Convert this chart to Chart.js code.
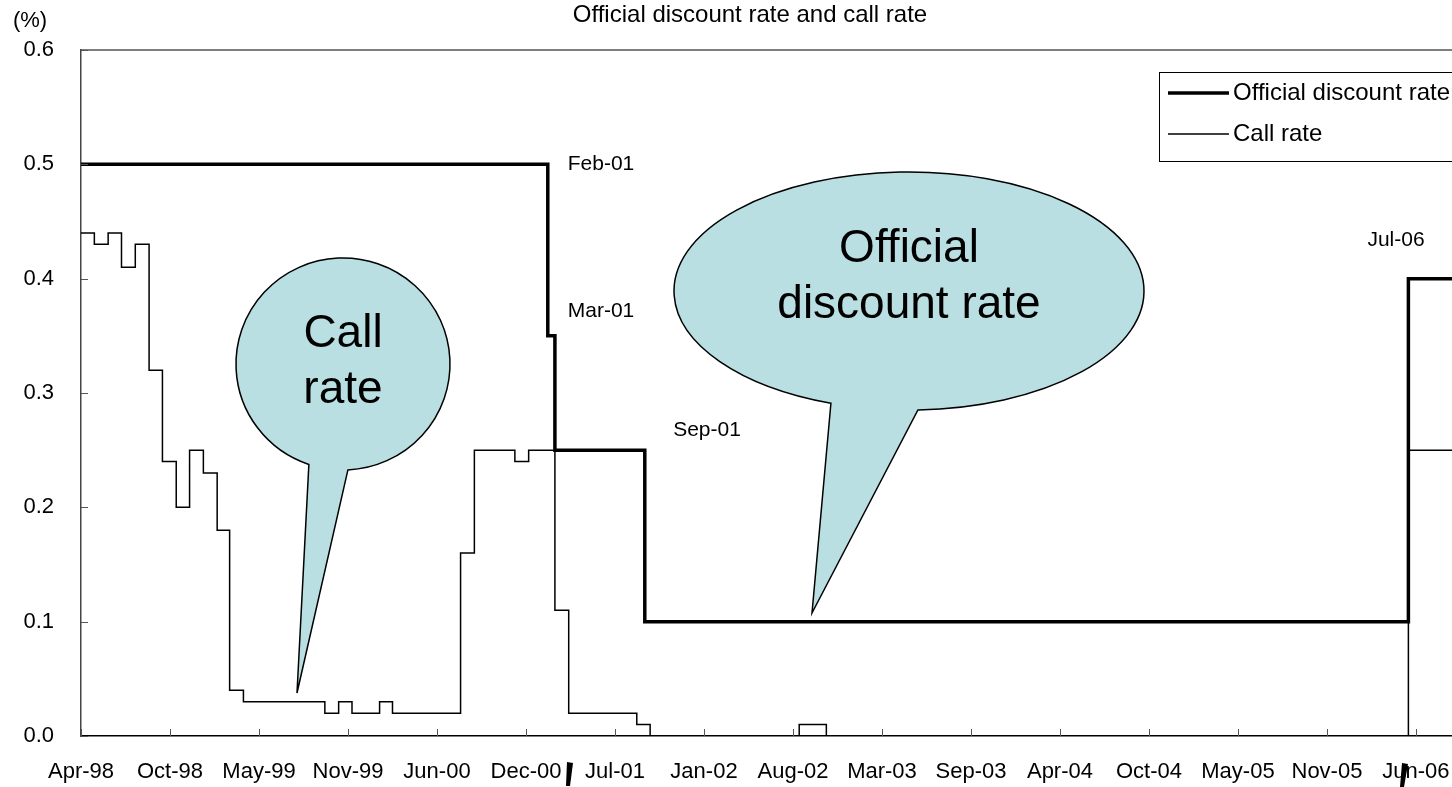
<!DOCTYPE html>
<html>
<head>
<meta charset="utf-8">
<title>Official discount rate and call rate</title>
<script src="https://cdn.jsdelivr.net/npm/chart.js@4.4.1/dist/chart.umd.min.js"></script>
<style>
  html, body { margin: 0; padding: 0; background: #fff; overflow: hidden; }
  canvas { display: block; }
</style>
</head>
<body>
<canvas id="rateChart" width="1452" height="787"></canvas>
<script>
// x axis is counted in days from 1 Apr 1998, ticks every 200 days
var startDate = Date.UTC(1998, 3, 1);
var tickDays = [0, 200, 400, 600, 800, 1000, 1200, 1400, 1600, 1800, 2000, 2200, 2400, 2600, 2800, 3000];
var tickLabels = ["Apr-98", "Oct-98", "May-99", "Nov-99", "Jun-00", "Dec-00", "Jul-01", "Jan-02",
                  "Aug-02", "Mar-03", "Sep-03", "Apr-04", "Oct-04", "May-05", "Nov-05", "Jun-06"];

// official discount rate: date it took effect, and the rate (%)
var discountDates = ["1998-04-01", "2001-02-13", "2001-03-01", "2001-09-19", "2006-06-01", "2006-10-01"];
var discountRate = [0.5, 0.35, 0.25, 0.1, 0.4, 0.4];

// call rate, monthly from Apr-98 (%)
var callMonths0 = [1998, 3]; // first month: year, month index
var callRate = [
  0.44, 0.43, 0.44, 0.41, 0.43, 0.32, 0.24, 0.20, 0.25,                       // 1998 Apr-Dec
  0.23, 0.18, 0.04, 0.03, 0.03, 0.03, 0.03, 0.03, 0.03, 0.02, 0.03, 0.02,     // 1999
  0.02, 0.03, 0.02, 0.02, 0.02, 0.02, 0.02, 0.16, 0.25, 0.25, 0.25, 0.24,     // 2000
  0.25, 0.25, 0.11, 0.02, 0.02, 0.02, 0.02, 0.02, 0.01, 0, 0, 0,              // 2001
  0, 0, 0, 0, 0, 0, 0, 0, 0.01, 0.01, 0, 0,                                   // 2002
  0, 0, 0, 0, 0, 0, 0, 0, 0, 0, 0, 0,                                         // 2003
  0, 0, 0, 0, 0, 0, 0, 0, 0, 0, 0, 0,                                         // 2004
  0, 0, 0, 0, 0, 0, 0, 0, 0, 0, 0, 0,                                         // 2005
  0, 0, 0, 0, 0, 0.25, 0.25, 0.25, 0.25, 0.25                                 // 2006 Jan-Oct
];

var dayMs = 86400000;
var fontName = "'Liberation Sans', Arial, sans-serif";

function dayOf(str) {
  var p = str.split("-");
  return Math.round((Date.UTC(+p[0], +p[1] - 1, +p[2]) - startDate) / dayMs);
}

var discountPoints = discountDates.map(function (d, i) {
  return { x: dayOf(d), y: discountRate[i] };
});

var callPoints = callRate.map(function (v, i) {
  var d = Date.UTC(callMonths0[0], callMonths0[1] + i, 1);
  return { x: Math.round((d - startDate) / dayMs), y: v };
});

// callouts and small labels drawn on top of the plot
function drawCallout(ctx, c) {
  var a1 = Math.atan2((c.base1[1] - c.cy) / c.ry, (c.base1[0] - c.cx) / c.rx);
  var a2 = Math.atan2((c.base2[1] - c.cy) / c.ry, (c.base2[0] - c.cx) / c.rx);
  ctx.beginPath();
  ctx.moveTo(c.tip[0], c.tip[1]);
  ctx.lineTo(c.cx + c.rx * Math.cos(a2), c.cy + c.ry * Math.sin(a2));
  ctx.ellipse(c.cx, c.cy, c.rx, c.ry, 0, a2, a1, true);
  ctx.closePath();
  ctx.fillStyle = "#b9dfe3";
  ctx.fill();
  ctx.lineWidth = 1.5;
  ctx.strokeStyle = "#000";
  ctx.stroke();
  ctx.fillStyle = "#000";
  ctx.font = "46px " + fontName;
  ctx.textAlign = "center";
  ctx.textBaseline = "middle";
  c.lines.forEach(function (t, i) {
    ctx.fillText(t, c.cx, c.textY + i * 56);
  });
}

var decorations = {
  id: "decorations",
  afterDatasetsDraw: function (chart) {
    var ctx = chart.ctx;
    var a = chart.chartArea;
    var xs = chart.scales.x, ys = chart.scales.y;
    ctx.save();

    // frame: top edge
    ctx.strokeStyle = "#555";
    ctx.lineWidth = 1.5;
    ctx.beginPath();
    ctx.moveTo(a.left, a.top);
    ctx.lineTo(a.right, a.top);
    ctx.stroke();

    // inward tick marks
    ctx.strokeStyle = "#555";
    ctx.lineWidth = 1;
    ys.ticks.forEach(function (t) {
      var py = Math.round(ys.getPixelForValue(t.value)) + 0.5;
      ctx.beginPath();
      ctx.moveTo(a.left, py);
      ctx.lineTo(a.left + 7, py);
      ctx.stroke();
    });
    xs.ticks.forEach(function (t) {
      var px = Math.round(xs.getPixelForValue(t.value)) + 0.5;
      ctx.beginPath();
      ctx.moveTo(px, a.bottom);
      ctx.lineTo(px, a.bottom - 7);
      ctx.stroke();
    });

    drawCallout(ctx, {
      cx: 343, cy: 364, rx: 107, ry: 106,
      base1: [308, 467], base2: [348, 472], tip: [297, 693],
      lines: ["Call", "rate"], textY: 334
    });
    drawCallout(ctx, {
      cx: 909, cy: 291, rx: 235, ry: 119,
      base1: [829, 406], base2: [918, 411], tip: [812, 613],
      lines: ["Official", "discount rate"], textY: 249
    });

    // date labels next to the steps
    ctx.font = "21px " + fontName;
    ctx.fillStyle = "#000";
    ctx.textAlign = "center";
    ctx.textBaseline = "middle";
    ctx.fillText("Feb-01", 601, 164);
    ctx.fillText("Mar-01", 601, 311);
    ctx.fillText("Sep-01", 707, 430);
    ctx.fillText("Jul-06", 1396, 240);

    ctx.restore();
  },
  afterDraw: function (chart) {
    var ctx = chart.ctx;
    ctx.save();

    // title and unit
    ctx.fillStyle = "#000";
    ctx.textBaseline = "middle";
    ctx.textAlign = "center";
    ctx.font = "24px " + fontName;
    ctx.fillText("Official discount rate and call rate", 750, 15);
    ctx.font = "22px " + fontName;
    ctx.fillText("(%)", 30, 21);

    // legend box
    var lx = 1159, ly = 72, lh = 89;
    ctx.fillStyle = "#fff";
    ctx.fillRect(lx, ly, 320, lh);
    ctx.strokeStyle = "#000";
    ctx.lineWidth = 1;
    ctx.strokeRect(lx + 0.5, ly + 0.5, 320, lh);
    chart.data.datasets.forEach(function (ds, i) {
      var yy = ly + 21 + i * 41;
      ctx.strokeStyle = ds.borderColor;
      ctx.lineWidth = ds.borderWidth;
      ctx.beginPath();
      ctx.moveTo(lx + 9, yy);
      ctx.lineTo(lx + 70, yy);
      ctx.stroke();
      ctx.fillStyle = "#000";
      ctx.font = "24px " + fontName;
      ctx.textAlign = "left";
      ctx.fillText(ds.label, lx + 74, yy);
    });

    // stray marks under the axis
    ctx.fillStyle = "#000";
    ctx.beginPath();
    ctx.moveTo(567, 762); ctx.lineTo(573, 763); ctx.lineTo(570, 786); ctx.lineTo(566, 786);
    ctx.closePath();
    ctx.fill();
    ctx.beginPath();
    ctx.moveTo(1402, 763); ctx.lineTo(1408, 764); ctx.lineTo(1404, 787); ctx.lineTo(1400, 787);
    ctx.closePath();
    ctx.fill();

    ctx.restore();
  }
};

var canvas = document.getElementById("rateChart");
var rateChart = new Chart(canvas.getContext("2d"), {
  type: "line",
  data: {
    datasets: [{
      label: "Official discount rate",
      data: discountPoints,
      borderColor: "#000",
      borderWidth: 3.5,
      stepped: true,
      pointRadius: 0,
      fill: false
    }, {
      label: "Call rate",
      data: callPoints,
      borderColor: "#000",
      borderWidth: 1.5,
      stepped: true,
      pointRadius: 0,
      fill: false
    }]
  },
  options: {
    responsive: false,
    animation: false,
    layout: { padding: { top: 50, right: 0, bottom: 0, left: 0 } },
    plugins: {
      legend: { display: false },
      title: { display: false },
      tooltip: { enabled: false }
    },
    scales: {
      x: {
        type: "linear",
        min: 0,
        max: 3081,
        afterBuildTicks: function (scale) {
          scale.ticks = tickDays.map(function (v) { return { value: v }; });
        },
        afterFit: function (scale) {
          scale.height = 51;
          scale.paddingLeft = 0;
          scale.paddingRight = 0;
        },
        grid: { display: false, drawTicks: false },
        border: { display: true, color: "#000", width: 1.5 },
        ticks: {
          autoSkip: false,
          maxRotation: 0,
          padding: 23,
          color: "#000",
          font: { family: fontName, size: 22 },
          callback: function (v, i) { return tickLabels[i]; }
        }
      },
      y: {
        min: 0,
        max: 0.6,
        afterFit: function (scale) {
          scale.width = 81;
          scale.paddingTop = 0;
          scale.paddingBottom = 0;
        },
        grid: { display: false, drawTicks: false },
        border: { display: true, color: "#444", width: 1.5 },
        ticks: {
          stepSize: 0.1,
          padding: 27,
          color: "#000",
          font: { family: fontName, size: 22 },
          callback: function (v) { return v.toFixed(1); }
        }
      }
    }
  },
  plugins: [decorations]
});
</script>
</body>
</html>
